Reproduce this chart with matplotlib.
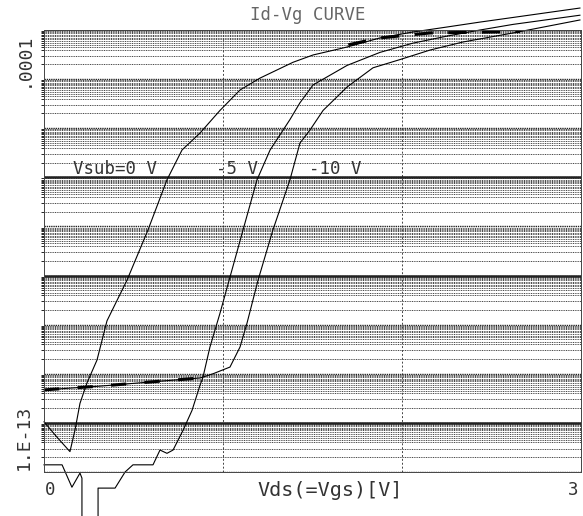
import numpy as np
import matplotlib
matplotlib.use("Agg")
import matplotlib.pyplot as plt
from matplotlib.ticker import LogLocator, NullFormatter

# Id-Vg curves (Vds = Vgs in V, Id in A)
# 1e-17 means the trace runs off the bottom of the chart
vg_0 = [0.0, 0.073, 0.145, 0.173, 0.201, 0.240, 0.296, 0.352, 0.464, 0.581,
        0.687, 0.771, 0.872, 0.983, 1.095, 1.207, 1.391, 1.503, 1.693,
        1.877, 2.061, 2.251, 2.436, 2.620, 2.994]
id_0 = [1.05e-12, 5.1e-13, 2.6e-13, 7.1e-13, 2.5e-12, 6.5e-12, 1.9e-11,
        1.2e-10, 8.1e-10, 8.5e-9, 8.9e-8, 3.6e-7, 8.0e-7, 2.3e-6, 6.0e-6,
        1.05e-5, 2.2e-5, 3.1e-5, 4.5e-5, 6.9e-5, 9.1e-5, 1.15e-4, 1.45e-4,
        1.8e-4, 2.8e-4]

vg_5 = [0.0, 0.101, 0.156, 0.201, 0.212, 0.212, np.nan, 0.302, 0.302, 0.397,
        0.453, 0.497, 0.609, 0.648, 0.687, 0.721, 0.777, 0.827, 0.872,
        0.888, 0.927, 0.983, 1.039, 1.112, 1.190, 1.263, 1.374, 1.430,
        1.503, 1.693, 1.877, 2.061, 2.251, 2.436, 2.620, 2.994]
id_5 = [1.4e-13, 1.4e-13, 4.9e-14, 9.5e-14, 7.5e-14, 1e-17, np.nan, 1e-17,
        4.7e-14, 4.7e-14, 1.0e-13, 1.4e-13, 1.4e-13, 2.8e-13, 2.4e-13,
        2.8e-13, 7.1e-13, 1.8e-12, 5.9e-12, 8.5e-12, 3.5e-11, 1.7e-10,
        9.3e-10, 8.5e-9, 8.9e-8, 3.6e-7, 1.5e-6, 3.3e-6, 7.6e-6, 1.9e-5,
        3.5e-5, 5.4e-5, 7.5e-5, 1.0e-4, 1.3e-4, 2.0e-4]

vg_10 = [0.0, 0.313, 0.592, 0.872, 0.944, 1.039, 1.095, 1.134, 1.196,
         1.279, 1.374, 1.430, 1.486, 1.559, 1.693, 1.838, 1.989, 2.156,
         2.341, 2.620, 2.994]
id_10 = [4.7e-12, 5.6e-12, 6.8e-12, 8.2e-12, 1.0e-11, 1.37e-11, 3.5e-11,
         1.07e-10, 8.1e-10, 8.5e-9, 8.9e-8, 5.0e-7, 9.2e-7, 2.3e-6, 6.9e-6,
         1.7e-5, 2.5e-5, 3.9e-5, 5.7e-5, 8.7e-5, 1.6e-4]

# heavy dashed pen trace near the top of the chart
vg_heavy = [1.70, 1.877, 2.156, 2.659]
id_heavy = [5.0e-5, 6.9e-5, 8.7e-5, 9.3e-5]

labels = ["Vsub=0 V", "-5 V", "-10 V"]
label_x = [0.16, 0.96, 1.48]

fig = plt.figure(figsize=(5.83, 5.16), dpi=100)
ax = fig.add_axes([44 / 583, 44 / 516, 537 / 583, 442 / 516])
ax.set_yscale("log")
ax.set_xlim(0, 3)
ax.set_ylim(1e-13, 1e-4)

# dense log grid like the plotter paper
ax.yaxis.set_major_locator(LogLocator(base=10, numticks=20))
ax.yaxis.set_minor_locator(LogLocator(base=10, numticks=20,
                           subs=[2, 3, 4, 4.5, 5, 5.5, 6, 6.5, 7, 7.5, 8, 8.5, 9, 9.5]))
ax.yaxis.set_minor_formatter(NullFormatter())
ax.set_xticks([1, 2])
ax.grid(True, which="major", axis="y", color="#222222", lw=1.0, ls=(0, (1, 0.6)))
ax.grid(True, which="minor", axis="y", color="#444444", lw=0.7, ls=(0, (1, 0.8)))
ax.grid(True, which="major", axis="x", color="#444444", lw=0.7, ls=(0, (2, 2)))
for v in [1e-7, 1e-9, 1e-12]:
    ax.axhline(v, color="#222222", lw=1.8)
ax.tick_params(left=False, bottom=False, labelleft=False, labelbottom=False)
for s in ax.spines.values():
    s.set_linestyle((0, (1, 1)))
    s.set_color("#444444")
    s.set_linewidth(0.7)

for xs, ys in [(vg_0, id_0), (vg_5, id_5), (vg_10, id_10)]:
    ax.plot(xs, ys, color="black", lw=0.8, clip_on=False)
# heavier pen strokes along the flat leakage part and the top
ax.plot(vg_10[:4], id_10[:4], color="black", lw=2.2, ls=(0, (5, 6)), clip_on=False)
ax.plot(vg_heavy, id_heavy, color="black", lw=2.2, ls=(0, (6, 5)), clip_on=False)

mono = "DejaVu Sans Mono"
for t, x in zip(labels, label_x):
    ax.text(x, 1.45e-7, t, fontsize=12.5, family=mono, color="#333333",
            ha="left", va="center")

fig.text(308 / 583, 1 - 15 / 516, "Id-Vg CURVE", fontsize=12.5, family=mono,
         color="#666666", ha="center", va="center")
fig.text(50 / 583, 1 - 490 / 516, "0", fontsize=12.5, family=mono,
         color="#333333", ha="center", va="center")
fig.text(573 / 583, 1 - 490 / 516, "3", fontsize=12.5, family=mono,
         color="#333333", ha="center", va="center")
fig.text(330 / 583, 1 - 490 / 516, "Vds(=Vgs)[V]", fontsize=14.5, family=mono,
         color="#333333", ha="center", va="center")
fig.text(24 / 583, 1 - 33 / 516, ".0001", fontsize=13, family=mono,
         color="#333333", rotation=90, ha="center", va="top")
fig.text(24 / 583, 1 - 470 / 516, "1.E-13", fontsize=13, family=mono,
         color="#333333", rotation=90, ha="center", va="bottom")

fig.savefig("out.png", dpi=100)
